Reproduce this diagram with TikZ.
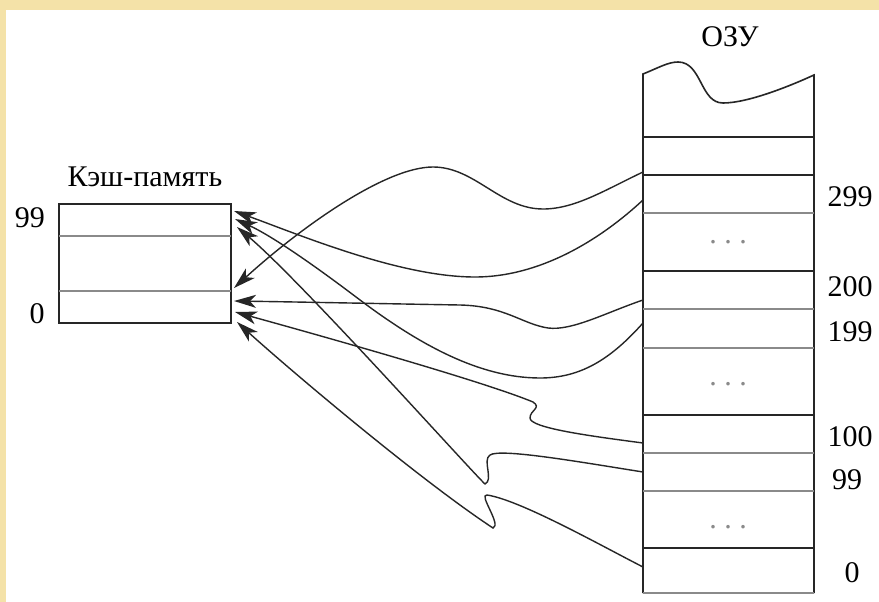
\documentclass[tikz,border=0pt]{standalone}
\usepackage{fontspec}
\setmainfont{Liberation Serif}
\usetikzlibrary{arrows.meta}
\definecolor{gold}{HTML}{F4E2A8}
\definecolor{lgray}{HTML}{8A8A8A}
\begin{document}
\begin{tikzpicture}[x=1pt,y=-1pt,
  lbl/.style={font=\fontsize{30}{34}\selectfont, inner sep=0pt},
  dots/.style={font=\fontsize{30}{34}\selectfont, inner sep=0pt, text=lgray},
  blk/.style={line width=1.6pt, black!85},
  gry/.style={line width=1.6pt, lgray},
  link/.style={line width=1.4pt, black!85, -{Stealth[length=22pt,width=13pt,inset=6pt]}}]
% background
\fill[white] (0,0) rectangle (879,602);
\fill[gold] (0,0) rectangle (879,10);
\fill[gold] (0,0) rectangle (6,602);
\useasboundingbox (0,0) rectangle (879,602);

% cache
\node[draw, blk, minimum width=172pt, minimum height=119pt, inner sep=0pt] (cache) at (145,263.5) {};
\draw[gry] (59,236) -- (231,236);
\draw[gry] (59,291) -- (231,291);
\node[lbl] (ctitle) at (145,177) {Кэш-память};
\node[lbl] (c99) at (30,218) {99};
\node[lbl] (c0) at (37,314) {0};

% RAM
\node[lbl] (ram) at (730,37) {ОЗУ};
\draw[blk] (643,593) -- (643,74) .. controls (658,68) and (668,62) .. (678,62)
  .. controls (702,62) and (700,103) .. (723,103)
  .. controls (748,103) and (790,86) .. (814,75) -- (814,593);
\draw[gry] (643,593) -- (814,593);
\foreach \yy in {137,175,271,415,548} \draw[blk] (643,\yy) -- (814,\yy);
\foreach \yy in {213,309,348,453,491} \draw[gry] (643,\yy) -- (814,\yy);
\node[dots] (d1) at (728,242) {.\ .\ .};
\node[dots] (d2) at (728,384) {.\ .\ .};
\node[dots] (d3) at (728,527) {.\ .\ .};
\node[lbl] (r299) at (850,197) {299};
\node[lbl] (r200) at (850,287) {200};
\node[lbl] (r199) at (850,332) {199};
\node[lbl] (r100) at (850,437) {100};
\node[lbl] (r99) at (847,480) {99};
\node[lbl] (r0) at (852,573) {0};

% connector ends
\coordinate (s1) at (643,172);
\coordinate (s2) at (643,200);
\coordinate (s3) at (643,300);
\coordinate (s4) at (643,323);
\coordinate (s5) at (643,443);
\coordinate (s6) at (643,472);
\coordinate (s7) at (643,567);
\coordinate (t1) at (234,211);
\coordinate (t2) at (235,219);
\coordinate (t3) at (237,227);
\coordinate (b1) at (234,288);
\coordinate (b2) at (234,301);
\coordinate (b3) at (235,312);
\coordinate (b4) at (237,322);

\draw[link] (s1) .. controls (605,190) and (575,209) .. (543,209)
  .. controls (500,209) and (475,167) .. (433,167)
  .. controls (385,167) and (300,228) .. (b1);
\draw[link] (s2) .. controls (600,240) and (540,277) .. (475,277)
  .. controls (400,277) and (300,235) .. (t1);
\draw[link] (s3) .. controls (605,313) and (572,331) .. (548,328)
  .. controls (522,324) and (505,306) .. (460,305)
  .. controls (400,304) and (300,302) .. (b2);
\draw[link] (s4) .. controls (610,360) and (580,378) .. (540,378)
  .. controls (480,378) and (420,345) .. (360,300)
  .. controls (310,262) and (270,235) .. (t2);
\draw[link] (s5) .. controls (590,436) and (530,428) .. (530,418)
  .. controls (530,410) and (542,408) .. (533,402)
  .. controls (480,380) and (300,330) .. (b3);
\draw[link] (s6) .. controls (580,462) and (500,448) .. (490,455)
  .. controls (482,460) and (494,480) .. (485,484)
  .. controls (470,470) and (300,280) .. (t3);
\draw[link] (s7) .. controls (600,545) and (520,500) .. (487,495)
  .. controls (478,494) and (502,525) .. (493,528)
  .. controls (420,480) and (290,370) .. (b4);
\end{tikzpicture}
\end{document}
